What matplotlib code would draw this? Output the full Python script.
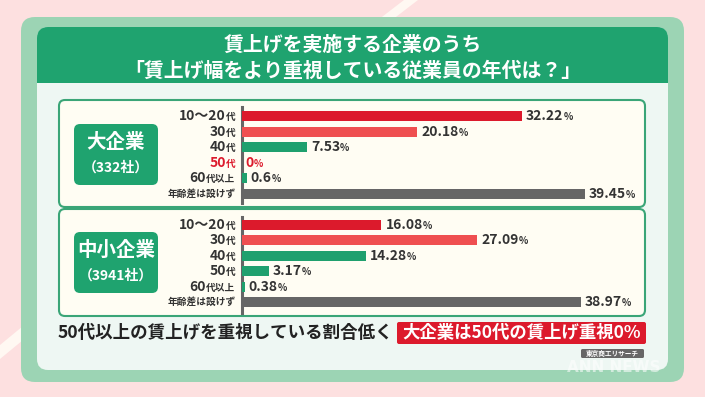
import matplotlib
matplotlib.use("Agg")
import matplotlib.pyplot as plt
from matplotlib.patches import FancyBboxPatch, Rectangle, Polygon
from matplotlib.offsetbox import TextArea, HPacker, AnnotationBbox

plt.rcParams['font.family'] = ['Noto Sans CJK JP', 'DejaVu Sans']

# ---- data ----
TITLE_1 = "賃上げを実施する企業のうち"
TITLE_2 = "「賃上げ幅をより重視している従業員の年代は？」"

# category labels split into (large part, small part)
CATEGORIES = [("10〜20", "代"), ("30", "代"), ("40", "代"), ("50", "代"),
              ("60", "代以上"), ("", "年齢差は設けず")]

LARGE_NAME = "大企業"
LARGE_COUNT = "（332社）"
LARGE_VALUES = [32.22, 20.18, 7.53, 0.0, 0.6, 39.45]
LARGE_LABELS = ["32.22", "20.18", "7.53", "0", "0.6", "39.45"]

SMALL_NAME = "中小企業"
SMALL_COUNT = "（3941社）"
SMALL_VALUES = [16.08, 27.09, 14.28, 3.17, 0.38, 38.97]
SMALL_LABELS = ["16.08", "27.09", "14.28", "3.17", "0.38", "38.97"]

BAR_COLORS = ['#dc1a2c', '#ef4f50', '#1fa06e', '#1fa06e', '#1fa06e', '#666666']

FOOT_TEXT = "50代以上の賃上げを重視している割合低く"
FOOT_HIGHLIGHT = "大企業は50代の賃上げ重視0%"
SOURCE = "東京商工リサーチ"

# ---- colors ----
PINK = '#fde0e0'
FRAME = '#9cd4b4'
HEADER = '#1fa36f'
PANEL = '#eef7f3'
BOX = '#fffdf3'
BORDER = '#3aa577'
TXT = '#333333'
RED = '#dc1a2c'

W, H = 705, 397
fig = plt.figure(figsize=(W / 100, H / 100), dpi=100)
fig.patch.set_facecolor(PINK)

# background canvas in pixel coordinates
bg = fig.add_axes([0, 0, 1, 1])
bg.set_xlim(0, W)
bg.set_ylim(H, 0)
bg.axis('off')

# white diagonal stripes
bg.add_patch(Polygon([(404, 0), (418, 0), (392, 20), (378, 20)], closed=True,
                     facecolor='#fff8f2', edgecolor='none'))
bg.add_patch(Polygon([(0, 345), (40, 312), (40, 326), (0, 359)], closed=True,
                     facecolor='#fff8f2', edgecolor='none'))

def rbox(x0, y0, x1, y1, fc, r, ec='none', lw=0, z=1):
    p = FancyBboxPatch((x0, y0), x1 - x0, y1 - y0,
                       boxstyle=f"round,pad=0,rounding_size={r}",
                       facecolor=fc, edgecolor=ec, linewidth=lw, zorder=z)
    bg.add_patch(p)
    return p

rbox(21, 17, 684, 382, FRAME, 14)
rbox(37, 27, 668, 370, PANEL, 11, z=2)
rbox(37, 27, 668, 83, HEADER, 11, z=3)
bg.add_patch(Rectangle((37, 60), 631, 23, facecolor=HEADER, edgecolor='none', zorder=3))

bg.text(352.5, 44, TITLE_1, color='white', fontsize=14.3, fontweight='bold',
        ha='center', va='center', zorder=5)
bg.text(352.5, 70, TITLE_2, color='white', fontsize=14.3, fontweight='bold',
        ha='center', va='center', zorder=5)

# the two white boxes
rbox(59, 100, 645, 207, BOX, 6, ec=BORDER, lw=1.5, z=3)
rbox(59, 209, 645, 316, BOX, 6, ec=BORDER, lw=1.5, z=3)

# green company-size labels
rbox(74, 124, 158, 185, HEADER, 6, z=4)
rbox(74, 232, 158, 293, HEADER, 6, z=4)
bg.text(116, 142, LARGE_NAME, color='white', fontsize=14, fontweight='bold',
        ha='center', va='center', zorder=5)
bg.text(116, 168, LARGE_COUNT, color='white', fontsize=10, fontweight='bold',
        ha='center', va='center', zorder=5)
bg.text(116, 250, SMALL_NAME, color='white', fontsize=14, fontweight='bold',
        ha='center', va='center', zorder=5)
bg.text(116, 276, SMALL_COUNT, color='white', fontsize=10, fontweight='bold',
        ha='center', va='center', zorder=5)

# footer
bg.text(58, 333, FOOT_TEXT, color='#222222', fontsize=12.6, fontweight='bold',
        ha='left', va='center', zorder=5)
rbox(397, 322, 646, 344, RED, 2, z=4)
bg.text(521.5, 333, FOOT_HIGHLIGHT, color='white', fontsize=12.5, fontweight='bold',
        ha='center', va='center', zorder=5)
rbox(581, 349, 644, 358, '#666666', 1.5, z=4)
bg.text(612.5, 353.5, SOURCE, color='white', fontsize=4.8, fontweight='bold',
        ha='center', va='center', zorder=5)
bg.text(614, 367, "ANN NEWS", color='white', alpha=0.55, fontsize=11,
        fontweight='bold', ha='center', va='center', zorder=5,
        family=['DejaVu Sans'])


def mixed(parts, color):
    boxes = [TextArea(t, textprops=dict(fontsize=s, color=color, fontweight='bold'))
             for t, s in parts if t]
    return HPacker(children=boxes, align='baseline', pad=0, sep=0)


PX_PER_PCT = 8.706
XMAX = 45


def bar_panel(top, bottom, values, labels, red_50=False, ylim=(5.6, -0.6)):
    left = 241.5
    ax = fig.add_axes([left / W, 1 - bottom / H,
                       XMAX * PX_PER_PCT / W, (bottom - top) / H])
    ax.set_zorder(6)
    ax.patch.set_alpha(0)
    ax.set_xlim(0, XMAX)
    ax.set_ylim(*ylim)
    rows = list(range(len(values)))
    ax.barh(rows, values, height=0.66, color=BAR_COLORS, zorder=3)
    for s in ['top', 'right', 'bottom']:
        ax.spines[s].set_visible(False)
    ax.spines['left'].set_color('#666666')
    ax.spines['left'].set_linewidth(2.2)
    ax.set_xticks([])
    ax.set_yticks([])

    for i, (big, small) in enumerate(CATEGORIES):
        col = RED if (red_50 and i == 3) else TXT
        if big:
            box = mixed([(big, 10), (small, 7)], col)
        else:
            box = mixed([(small, 7)], col)
        ab = AnnotationBbox(box, (0, i), xybox=(-6, 0), boxcoords='offset pixels',
                            box_alignment=(1, 0.5), frameon=False,
                            annotation_clip=False)
        ax.add_artist(ab)

    for i, (v, lab) in enumerate(zip(values, labels)):
        col = RED if (red_50 and i == 3) else TXT
        box = mixed([(lab, 10), ("%", 7)], col)
        ab = AnnotationBbox(box, (v, i), xybox=(4, 0), boxcoords='offset pixels',
                            box_alignment=(0, 0.5), frameon=False,
                            annotation_clip=False)
        ax.add_artist(ab)
    return ax


bar_panel(107, 203, LARGE_VALUES, LARGE_LABELS, red_50=True, ylim=(5.6, -0.6))
bar_panel(217, 313, SMALL_VALUES, SMALL_LABELS, ylim=(5.7, -0.5))

fig.savefig('out.png', dpi=100, facecolor=PINK)
